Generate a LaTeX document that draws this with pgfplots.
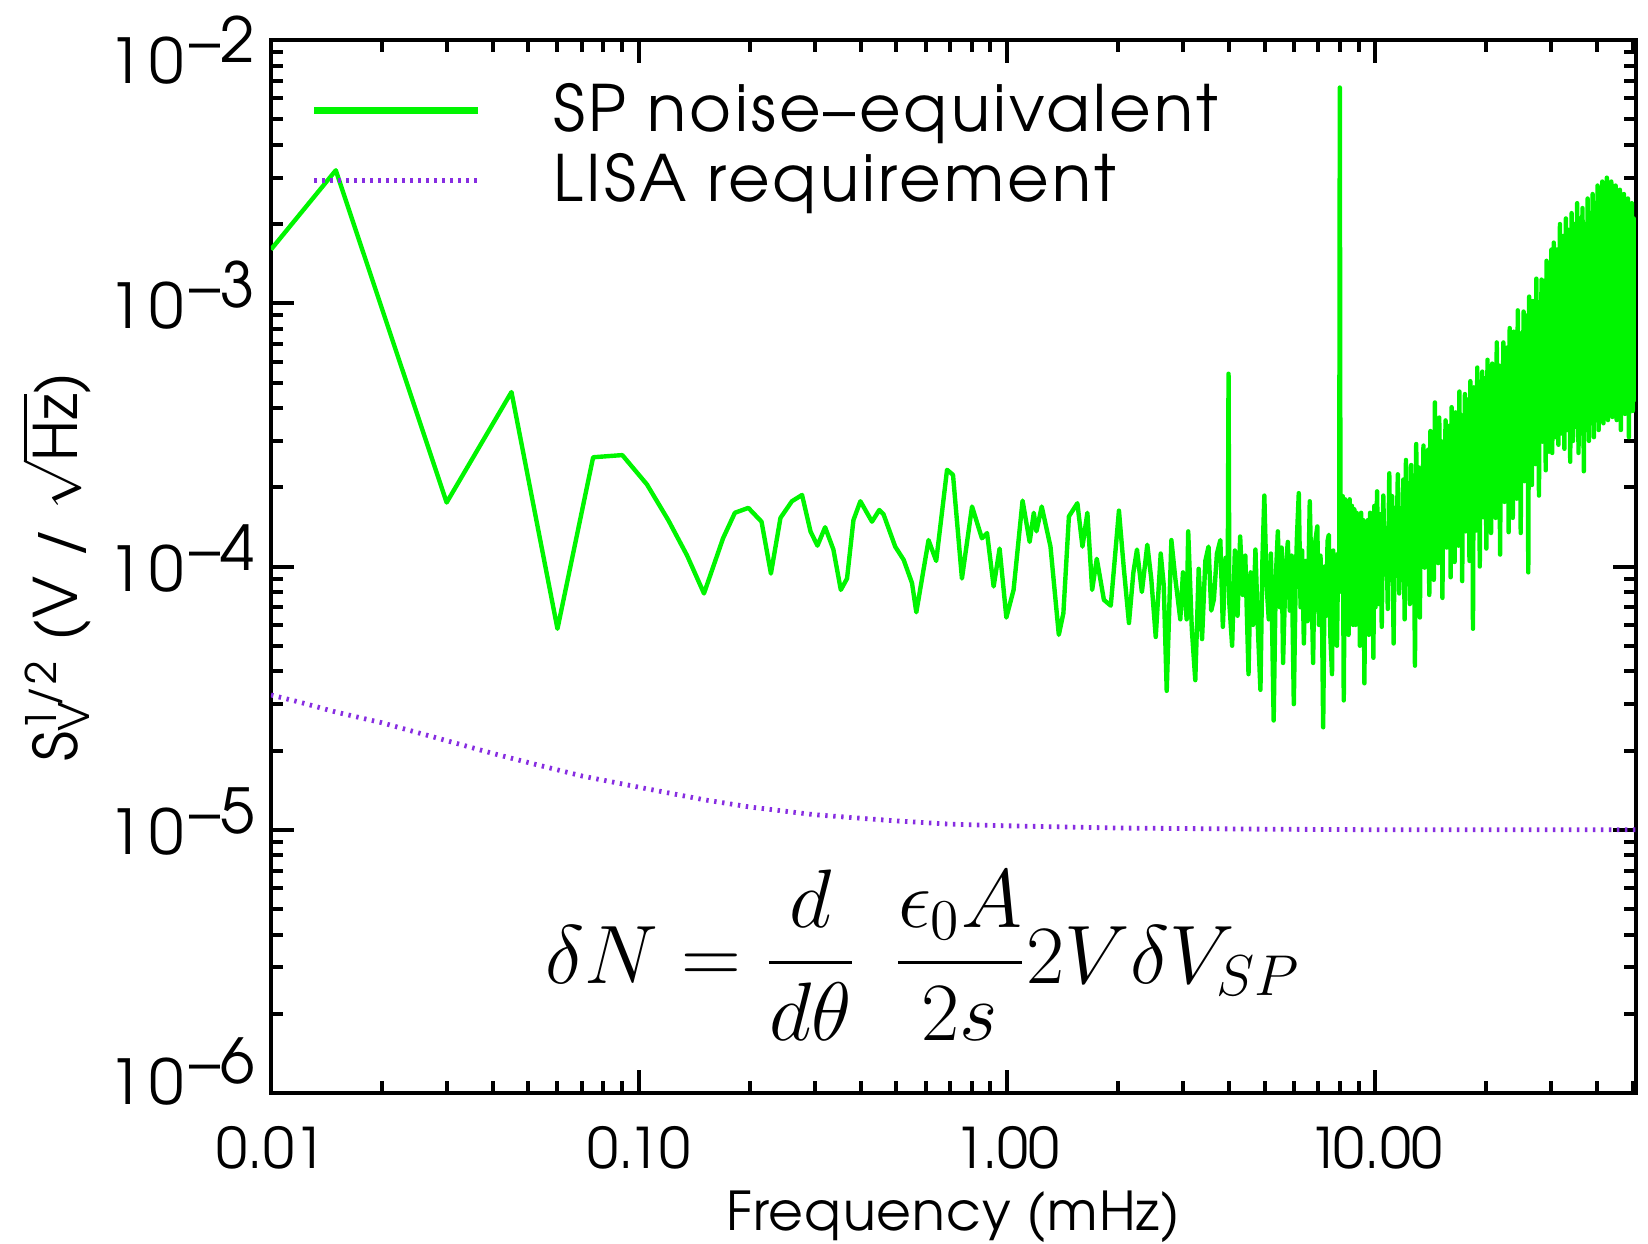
\documentclass[border=0pt]{standalone}
\usepackage{amsmath}
\usepackage[no-math]{fontspec}
\setmainfont{TeX Gyre Adventor}
\usepackage{pgfplots}
\pgfplotsset{compat=1.18}
\definecolor{spgreen}{RGB}{0,245,0}
\definecolor{lisa}{RGB}{135,45,225}
\newcommand{\tl}[2]{\raisebox{#2}{1\kern1.5pt0\kern1.5pt\raisebox{5.3pt}{–#1}}}
\begin{document}
\begin{tikzpicture}
\begin{axis}[name=ax, scale only axis, width=341.25pt, height=263.25pt,
  xmode=log, ymode=log, xmin=0.01, xmax=51, ymin=1e-6, ymax=1e-2,
  axis line style={line width=1pt},
  every tick/.style={black, line width=1pt},
  major tick length=5.75pt, minor tick length=2.9pt,
  xtick={0.01,0.1,1,10}, xticklabels={0.01,0.10,1.00,1\kern-1.5pt0.00},
  minor xtick={0.02,0.03,0.04,0.05,0.06,0.07,0.08,0.09,0.2,0.3,0.4,0.5,0.6,0.7,0.8,0.9,2,3,4,5,6,7,8,9,20,30,40,50},
  ytick={1e-6,1e-5,1e-4,1e-3,1e-2},
  yticklabels={\tl{6}{3.4pt},\tl{5}{0pt},\tl{4}{0pt},\tl{3}{0pt},\tl{2}{-4.5pt}},
  minor ytick={2e-6,3e-6,4e-6,5e-6,6e-6,7e-6,8e-6,9e-6,2e-5,3e-5,4e-5,5e-5,6e-5,7e-5,8e-5,9e-5,2e-4,3e-4,4e-4,5e-4,6e-4,7e-4,8e-4,9e-4,2e-3,3e-3,4e-3,5e-3,6e-3,7e-3,8e-3,9e-3},
  xticklabel style={yshift=-4.7pt, font=\fontsize{14}{16}\selectfont},
  yticklabel style={anchor=base east, yshift=-6.3pt, xshift=-0.5pt, font=\fontsize{15.5}{17}\selectfont},
  xlabel={Frequency (mHz)},
  ylabel={S\rlap{\textsubscript{V}}\textsuperscript{1/2} (V / $\sqrt{\mbox{Hz}}$)},
  xlabel style={at={(axis description cs:0.5,-0.118)}, anchor=center, inner sep=0pt, font=\fontsize{13.4}{15}\selectfont\addfontfeatures{LetterSpace=2}},
  ylabel style={at={(axis description cs:-0.157,0.5)}, anchor=center, inner sep=0pt, font=\fontsize{15}{17}\selectfont\addfontfeatures{LetterSpace=2}},
  legend style={at={(rel axis cs:0.02,0.975)}, anchor=north west, draw=none, fill=none,
    font=\fontsize{16}{19}\selectfont\addfontfeatures{LetterSpace=5}, row sep=0pt,
    /tikz/every odd column/.append style={column sep=16pt}},
  legend cell align=left,
  legend image code/.code={\draw[#1] (0pt,0pt) -- (41pt,0pt);},
]
\addplot[spgreen, line width=1.1pt, line join=round, legend image post style={line width=1.7pt}] table {
0.01 1.6e-3
0.015 3.2e-3
0.03 1.75e-4
0.045 4.6e-4
0.06 5.8e-5
0.075 2.6e-4
0.09 2.65e-4
0.105 2.05e-4
0.12 1.5e-4
0.135 1.1e-4
0.15 7.9e-5
0.169 1.28e-4
0.182 1.6e-4
0.198 1.67e-4
0.215 1.48e-4
0.228 9.4e-5
0.242 1.53e-4
0.26 1.77e-4
0.277 1.87e-4
0.292 1.36e-4
0.305 1.2e-4
0.32 1.41e-4
0.337 1.16e-4
0.353 8.15e-5
0.367 9.0e-5
0.382 1.5e-4
0.399 1.77e-4
0.429 1.48e-4
0.449 1.64e-4
0.461 1.58e-4
0.496 1.19e-4
0.523 1.06e-4
0.551 8.65e-5
0.566 6.7e-5
0.611 1.26e-4
0.641 1.05e-4
0.686 2.33e-4
0.712 2.23e-4
0.753 9.0e-5
0.802 1.69e-4
0.853 1.28e-4
0.881 1.34e-4
0.918 8.4e-5
0.953 1.17e-4
0.994 6.4e-5
1.04 8.15e-5
1.10 1.78e-4
1.15 1.24e-4
1.18 1.6e-4
1.20 1.36e-4
1.24 1.69e-4
1.31 1.19e-4
1.38 5.5e-5
1.42 6.65e-5
1.47 1.55e-4
1.55 1.74e-4
1.60 1.19e-4
1.65 1.6e-4
1.70 8.15e-5
1.75 1.07e-4
1.83 7.47e-5
1.91 7.1e-5
2.01 1.63e-4
2.07 1.0e-4
2.14 6.1e-5
2.20 9.5e-5
2.25 1.16e-4
2.32 8.0e-5
2.40 1.21e-4
2.46 9.0e-5
2.53 5.4e-5
2.61 1.12e-4
2.66 8.5e-5
2.71 3.37e-5
2.79 1.26e-4
2.86 9.0e-5
2.95 6.3e-5
3.00 9.5e-5
3.07 6.3e-5
3.10 1.36e-4
3.17 5.8e-5
3.24 3.7e-5
3.31 9.8e-5
3.38 5.3e-5
3.45 1.05e-4
3.52 1.19e-4
3.58 6.8e-5
3.64 7.5e-5
3.71 1.12e-4
3.79 1.26e-4
3.85 5.9e-5
3.92 1.08e-4
3.97 8.8e-5
3.99 5.4e-4
4.01 7.2e-5
4.08 5.0e-5
4.15 1.15e-4
4.22 6.5e-5
4.29 1.3e-4
4.36 7.8e-5
4.43 1.1e-4
4.52 3.9e-5
4.58 9.5e-5
4.65 6.0e-5
4.72 1.16e-4
4.80 5.5e-5
4.87 3.4e-5
4.93 1.05e-4
4.99 1.86e-4
5.06 8.5e-5
5.13 6.3e-5
5.20 1.12e-4
5.29 2.6e-5
5.36 9.0e-5
5.43 1.36e-4
5.50 7.0e-5
5.56 1.18e-4
5.61 4.3e-5
5.70 9.8e-5
5.78 1.24e-4
5.85 6.8e-5
5.92 1.1e-4
6.00 3.0e-5
6.07 8.8e-5
6.12 1.3e-4
6.19 1.9e-4
6.26 7.0e-5
6.32 1.15e-4
6.39 5.1e-5
6.46 1.05e-4
6.54 6.2e-5
6.63 1.77e-4
6.70 9.0e-5
6.77 4.3e-5
6.84 1.2e-4
6.95 1.42e-4
7.02 6.0e-5
7.09 1.1e-4
7.15 7.5e-5
7.21 2.45e-5
7.28 1.0e-4
7.35 6.5e-5
7.41 1.25e-4
7.47 1.32e-4
7.54 5.5e-5
7.62 3.9e-5
7.68 1.15e-4
7.74 7.0e-5
7.80 1.05e-4
7.86 5.0e-5
7.92 1.12e-4
7.97 8.0e-5
8.00 6.6e-3
8.03 1.9e-4
8.09 1.02e-4
8.15 1.85e-4
8.20 3.1e-5
8.27 1.8e-4
8.33 8.0e-5
8.39 1.75e-4
8.45 5.5e-5
8.51 1.8e-4
8.57 9.0e-5
8.63 1.7e-4
8.69 6.0e-5
8.76 1.65e-4
8.83 6.0e-5
8.89 1.6e-4
8.95 7.5e-5
9.01 1.55e-4
9.07 5.0e-5
9.14 1.6e-4
9.20 8.5e-5
9.27 1.5e-4
9.33 3.6e-5
9.40 1.45e-4
9.47 7.0e-5
9.53 1.5e-4
9.60 5.5e-5
9.67 1.6e-4
9.73 8.0e-5
9.80 1.45e-4
9.87 4.5e-5
9.93 1.7e-4
10.0 7.0e-5
10.1 1.93e-4
10.2 7.2e-5
10.3 1.58e-4
10.4 5.9e-5
10.5 1.86e-4
10.6 9.5e-5
10.7 1.39e-4
10.8 6.9e-5
10.9 2.26e-4
11.0 8.9e-5
11.1 1.85e-4
11.2 5.1e-5
11.3 1.67e-4
11.4 1.15e-4
11.5 2.24e-4
11.6 7.9e-5
11.7 1.41e-4
11.8 8.9e-5
11.9 2.14e-4
12.0 6.3e-5
12.1 2.54e-4
12.2 9.0e-5
12.3 2.07e-4
12.4 7.2e-5
12.5 2.43e-4
12.6 1.17e-4
12.7 1.8e-4
12.8 4.2e-5
12.9 2.92e-4
13.0 1.12e-4
13.1 2.38e-4
13.2 6.4e-5
13.3 2.18e-4
13.4 1.44e-4
13.5 2.88e-4
13.6 9.9e-5
13.7 1.83e-4
13.8 1.1e-4
13.9 2.78e-4
14.0 7.8e-5
14.1 3.27e-4
14.2 1.1e-4
14.3 2.64e-4
14.4 8.9e-5
14.5 4.2e-4
14.6 1.43e-4
14.7 2.28e-4
14.8 1.03e-4
14.9 3.68e-4
15.0 1.35e-4
15.1 2.99e-4
15.2 7.6e-5
15.3 2.72e-4
15.4 1.72e-4
15.5 3.59e-4
15.6 1.18e-4
15.7 2.26e-4
15.8 1.32e-4
15.9 3.43e-4
16.0 9.1e-5
16.1 4.03e-4
16.2 1.3e-4
16.3 3.27e-4
16.4 1.04e-4
16.5 3.85e-4
16.6 1.67e-4
16.7 2.85e-4
16.8 1.2e-4
16.9 4.62e-4
17.0 1.55e-4
17.1 3.76e-4
17.2 8.8e-5
17.3 3.43e-4
17.4 1.98e-4
17.5 4.52e-4
17.6 1.36e-4
17.7 2.85e-4
17.8 1.51e-4
17.9 4.32e-4
18.0 1.05e-4
18.1 5.06e-4
18.2 1.49e-4
18.3 4.09e-4
18.4 5.8e-5
18.5 4.79e-4
18.6 1.91e-4
18.7 3.53e-4
18.8 1.37e-4
18.9 5.7e-4
19.0 1.78e-4
19.1 4.61e-4
19.2 1.0e-4
19.3 4.19e-4
19.4 2.26e-4
19.5 5.5e-4
19.6 1.54e-4
19.7 3.45e-4
19.8 1.71e-4
19.9 5.2e-4
20.0 1.17e-4
20.15 6.1e-4
20.3 1.67e-4
20.45 4.99e-4
20.6 1.34e-4
20.75 5.9e-4
20.9 2.15e-4
21.05 4.39e-4
21.2 1.53e-4
21.35 7.1e-4
21.5 1.95e-4
21.65 5.8e-4
21.8 1.11e-4
21.95 5.3e-4
22.1 2.58e-4
22.25 7.1e-4
22.4 1.76e-4
22.55 4.49e-4
22.7 1.95e-4
22.85 6.8e-4
23.0 1.35e-4
23.15 8.05e-4
23.3 1.92e-4
23.45 6.6e-4
23.6 1.53e-4
23.75 7.8e-4
23.9 2.45e-4
24.05 5.8e-4
24.2 1.81e-4
24.35 9.4e-4
24.5 2.34e-4
24.65 7.7e-4
24.8 1.34e-4
24.95 7.0e-4
25.1 3.1e-4
25.25 9.3e-4
25.4 2.11e-4
25.55 5.9e-4
25.7 2.35e-4
25.85 9.0e-4
26.0 9.5e-5
26.15 1.06e-3
26.3 2.48e-4
26.45 8.7e-4
26.6 2.04e-4
26.75 1.02e-3
26.9 3.35e-4
27.05 7.6e-4
27.2 2.45e-4
27.35 1.24e-3
27.5 3.2e-4
27.65 1.01e-3
27.8 1.86e-4
27.95 9.3e-4
28.1 4.3e-4
28.25 1.23e-3
28.4 2.98e-4
28.55 7.9e-4
28.7 3.34e-4
28.85 1.22e-3
29.0 2.32e-4
29.15 1.45e-3
29.3 3.35e-4
29.45 1.19e-3
29.6 2.73e-4
29.75 1.41e-3
29.9 4.4e-4
30.05 1.6e-3
30.2 2.7e-4
30.5 1.7e-3
30.8 3.1e-4
31.1 1.6e-3
31.4 2.9e-4
31.7 2.0e-3
32.0 3.2e-4
32.3 1.8e-3
32.6 2.8e-4
32.9 2.1e-3
33.2 3.3e-4
33.5 1.9e-3
33.8 2.5e-4
34.1 2.2e-3
34.4 3.0e-4
34.7 2.0e-3
35.0 3.4e-4
35.3 2.4e-3
35.6 2.7e-4
35.9 2.1e-3
36.2 3.2e-4
36.5 2.3e-3
36.8 2.3e-4
37.1 2.0e-3
37.4 3.3e-4
37.7 2.5e-3
38.0 3.0e-4
38.3 2.2e-3
38.6 3.5e-4
38.9 2.6e-3
39.2 3.1e-4
39.5 2.4e-3
39.8 3.6e-4
40.1 2.8e-3
40.4 3.3e-4
40.7 2.5e-3
41.0 3.8e-4
41.3 2.9e-3
41.6 3.5e-4
41.9 2.6e-3
42.2 4.0e-4
42.5 3.0e-3
42.8 3.6e-4
43.1 2.7e-3
43.4 4.1e-4
43.7 2.9e-3
44.0 3.7e-4
44.3 2.6e-3
44.6 4.2e-4
44.9 2.8e-3
45.2 3.6e-4
45.5 2.5e-3
45.8 4.0e-4
46.1 2.7e-3
46.4 3.3e-4
46.7 2.4e-3
47.0 4.1e-4
47.3 2.6e-3
47.6 3.8e-4
47.9 2.3e-3
48.2 4.3e-4
48.5 2.5e-3
48.8 3.1e-4
49.1 2.2e-3
49.4 4.2e-4
49.7 2.4e-3
50.0 3.9e-4
50.3 2.1e-3
50.6 4.3e-4
50.9 2.0e-3
};
\addlegendentry{SP noise–equivalent}
\addplot[lisa, line width=1.2pt, dash pattern=on 0.6pt off 1.4pt] table {
0.01 3.25e-5
0.012 3.05e-5
0.015 2.8e-5
0.02 2.55e-5
0.03 2.18e-5
0.04 1.95e-5
0.05 1.8e-5
0.07 1.6e-5
0.1 1.45e-5
0.15 1.3e-5
0.2 1.22e-5
0.3 1.14e-5
0.5 1.08e-5
0.7 1.05e-5
1.0 1.035e-5
2.0 1.015e-5
5.0 1.005e-5
10 1.0e-5
51 1.0e-5
};
\addlegendentry{LISA requirement}
\node at (rel axis cs:0.478,0.131) {\fontsize{22}{26}\selectfont $\delta N = \dfrac{d}{d\theta}\;\,\dfrac{\epsilon_0 A}{2s}2V\delta V_{SP}$};
\end{axis}
\path ([xshift=-67.75pt,yshift=-37.75pt]ax.south west) rectangle ([xshift=3pt,yshift=10pt]ax.north east);
\end{tikzpicture}
\end{document}
